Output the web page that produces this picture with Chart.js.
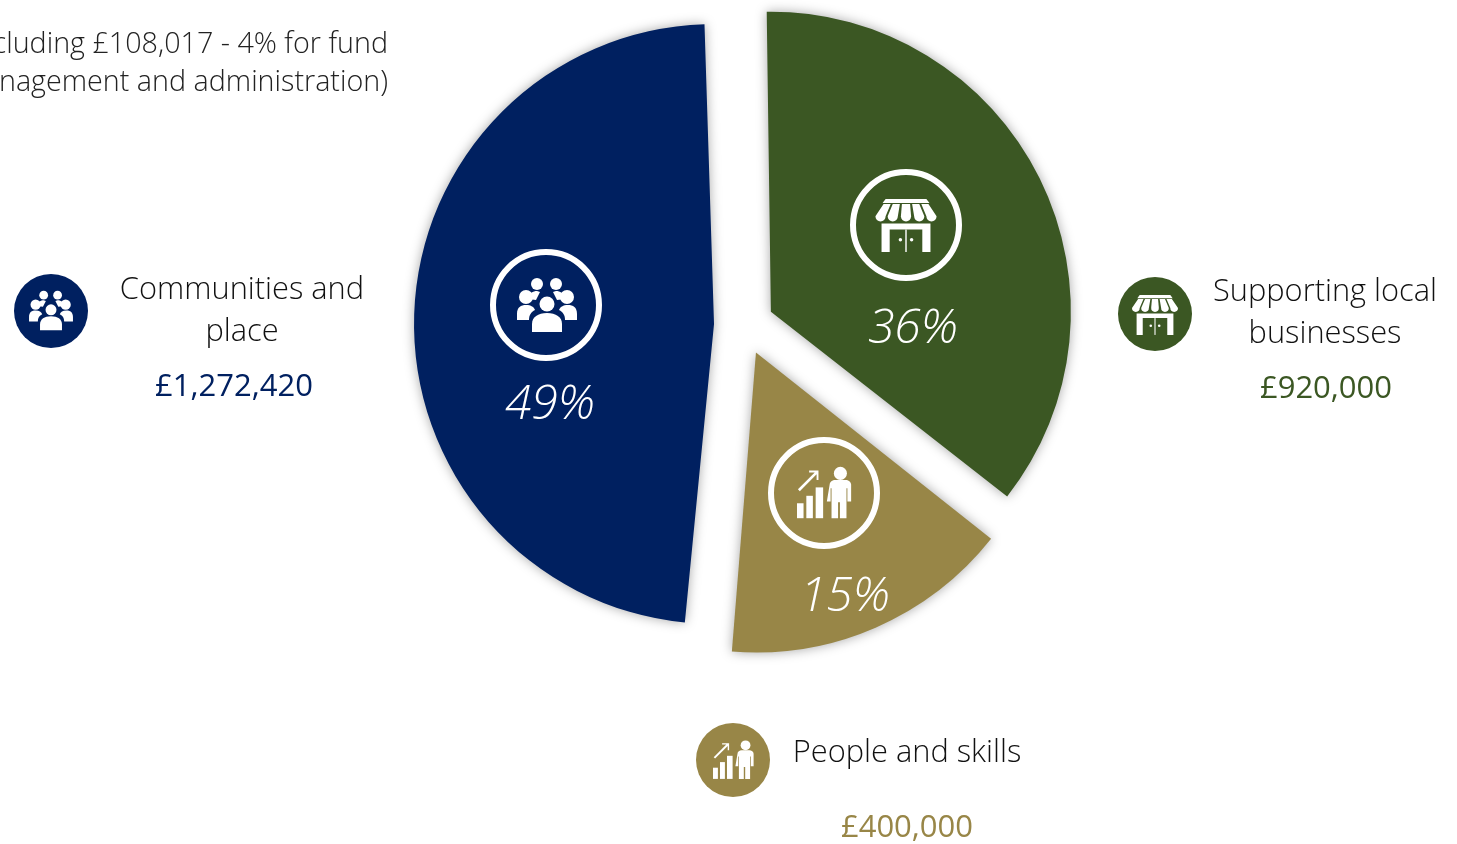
<!DOCTYPE html>
<html>
<head>
<meta charset="utf-8">
<title>Fund allocation</title>
<script src="https://cdn.jsdelivr.net/npm/chart.js@4/dist/chart.umd.min.js"></script>
<style>
  html, body { margin: 0; padding: 0; background: #fff; overflow: hidden; }
  #wrap { position: relative; width: 1457px; height: 844px; overflow: hidden; font-family: "Open Sans", sans-serif; font-weight: 300; }
  canvas { position: absolute; left: 0; top: 0; }
  .t { position: absolute; transform: translate(-50%, -50%); white-space: nowrap; color: #111; font-size: 30.8px; }
  .amt { font-size: 31px; font-weight: 400; }
  .pct { color: #fff; font-size: 48px; font-style: italic; }
  .note { position: absolute; right: 1069px; white-space: nowrap; color: #222; font-size: 28.7px; transform: translateY(-50%); }
  svg.ic { position: absolute; }
</style>
</head>
<body>
<div id="wrap">
  <canvas id="pie" width="1457" height="844"></canvas>

  <svg width="0" height="0" style="position:absolute">
    <defs>
      <symbol id="people" viewBox="0 0 60 56">
        <g fill="#fff">
          <circle cx="20" cy="7" r="6"/><circle cx="39" cy="7" r="6"/>
          <path d="M11 22c1-6 5-8 9-8l3 1-4 8zM48 22c-1-6-5-8-9-8l-3 1 4 8z"/>
          <circle cx="9" cy="20" r="7"/><circle cx="50" cy="20" r="7"/>
          <path d="M0 43v-6c0-7 4-9 9-9s8 2 9 5c-4 2-6 5-6 10zM60 43v-6c0-7-4-9-9-9s-8 2-9 5c4 2 6 5 6 10z"/>
          <circle cx="30" cy="27" r="7.5"/>
          <path d="M15 55v-8c0-7 6-11 15-11s15 4 15 11v8z"/>
        </g>
      </symbol>
      <symbol id="shop" viewBox="0 0 60 52">
        <g fill="#fff">
          <path d="M10 0H50L53 4H7z"/>
          <path d="M8 5h7L10 17a5 5 0 0 1-10 0z"/>
          <path d="M17 5h7l-2 12a5 5 0 0 1-10 0z"/>
          <path d="M26 5h8l1 12a5 5 0 0 1-10 0z"/>
          <path d="M36 5h7l5 12a5 5 0 0 1-10 0z"/>
          <path d="M45 5h7l8 12a5 5 0 0 1-10 0z"/>
          <path d="M6 24H54V52H46V30H14V52H6z"/>
          <rect x="29.3" y="30" width="1.4" height="22"/>
          <circle cx="24.5" cy="40" r="1.7"/><circle cx="35.5" cy="40" r="1.7"/>
        </g>
      </symbol>
      <symbol id="skills" viewBox="0 0 60 56">
        <g fill="#fff">
          <rect x="0" y="39" width="7" height="16"/>
          <rect x="10" y="31" width="7" height="24"/>
          <rect x="20" y="22" width="8" height="33"/>
          <circle cx="46.5" cy="7" r="7"/>
          <path d="M35 19c0-3 3-5 6-5h11c3 0 6 2 6 5v18h-4V23h-1v32h-7V38h-2v17h-7V23h-1v14h-4z"/>
          <path d="M1 24 19 6H13V4H23V14H21V8L3 26z"/>
        </g>
      </symbol>
    </defs>
  </svg>

  <div class="note" style="top:41px">(including £108,017 - 4% for fund</div>
  <div class="note" style="top:79px">management and administration)</div>

  <div class="t" style="left:242px;top:287px">Communities and</div>
  <div class="t" style="left:242px;top:329px">place</div>
  <div class="t amt" style="left:234px;top:384px;color:#002060">£1,272,420</div>

  <div class="t" style="left:1325px;top:289px">Supporting local</div>
  <div class="t" style="left:1325px;top:331px">businesses</div>
  <div class="t amt" style="left:1326px;top:386px;color:#3b5723">£920,000</div>

  <div class="t" style="left:907px;top:750px">People and skills</div>
  <div class="t amt" style="left:907px;top:825px;color:#988647">£400,000</div>

  <div class="t pct" style="left:550px;top:400px">49%</div>
  <div class="t pct" style="left:913px;top:324px">36%</div>
  <div class="t pct" style="left:845px;top:592px">15%</div>

  <!-- rings on the slices -->
  <svg class="ic" style="left:488px;top:247px" width="116" height="116"><circle cx="58" cy="58" r="53" fill="none" stroke="#fff" stroke-width="6"/><use href="#people" x="29" y="30" width="60" height="56"/></svg>
  <svg class="ic" style="left:848px;top:167px" width="116" height="116"><circle cx="58" cy="58" r="53" fill="none" stroke="#fff" stroke-width="6"/><use href="#shop" x="27" y="32" width="62" height="53"/></svg>
  <svg class="ic" style="left:766px;top:435px" width="116" height="116"><circle cx="58" cy="58" r="53" fill="none" stroke="#fff" stroke-width="6"/><use href="#skills" x="31" y="31" width="56" height="54"/></svg>

  <!-- legend badges -->
  <svg class="ic" style="left:14px;top:274px" width="74" height="74"><circle cx="37" cy="37" r="37" fill="#002060"/><use href="#people" x="15" y="16" width="44" height="41"/></svg>
  <svg class="ic" style="left:1118px;top:277px" width="74" height="74"><circle cx="37" cy="37" r="37" fill="#3b5723"/><use href="#shop" x="14" y="18" width="46" height="40"/></svg>
  <svg class="ic" style="left:696px;top:723px" width="74" height="74"><circle cx="37" cy="37" r="37" fill="#988647"/><use href="#skills" x="17" y="17" width="42" height="40"/></svg>
</div>

<script>
var categories = ["Supporting local businesses", "People and skills", "Communities and place"];
// slice sizes as drawn in the picture, in percent
var sliceShares = [35.9, 15.7, 48.4];
var sliceColours = ["#3b5723", "#988647", "#002060"];

var OFFSET_PX = 30;
var RADIUS_PX = 300;

// Chart.js grows an offset arc's radius, big slices most of all. Undo that so all three match.
var evenRadius = {
    id: 'evenRadius',
    afterDatasetsUpdate: function (chart) {
        chart.getDatasetMeta(0).data.forEach(function (arc) {
            var fix = 1 - Math.sin(Math.min(Math.PI, arc.circumference));
            arc.outerRadius = RADIUS_PX - OFFSET_PX * fix;
        });
    }
};

// soft shadow behind the slices
var sliceShadow = {
    id: 'sliceShadow',
    beforeDatasetDraw: function (chart) {
        var ctx = chart.ctx;
        ctx.save();
        ctx.shadowColor = "rgba(0,0,0,0.35)";
        ctx.shadowBlur = 12;
    },
    afterDatasetDraw: function (chart) {
        chart.ctx.restore();
    }
};

var ctx = document.getElementById("pie").getContext("2d");
new Chart(ctx, {
    type: 'pie',
    data: {
        labels: categories,
        datasets: [{
            data: sliceShares,
            backgroundColor: sliceColours,
            borderWidth: 0,
            offset: OFFSET_PX * 4,
            hoverOffset: OFFSET_PX * 4
        }]
    },
    options: {
        responsive: false,
        animation: false,
        rotation: -1,
        radius: RADIUS_PX,
        layout: { padding: { left: 31, bottom: 194 } },
        plugins: { legend: { display: false }, tooltip: { enabled: false } }
    },
    plugins: [evenRadius, sliceShadow]
});
</script>
</body>
</html>
